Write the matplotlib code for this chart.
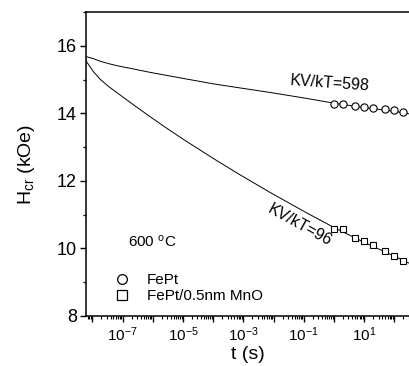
import numpy as np
import matplotlib
matplotlib.use("Agg")
import matplotlib.pyplot as plt
from matplotlib.lines import Line2D
from matplotlib.ticker import LogLocator, FuncFormatter, MultipleLocator, NullFormatter

plt.rcParams['font.family'] = ['Liberation Sans', 'DejaVu Sans']
plt.rcParams['mathtext.fontset'] = 'custom'
plt.rcParams['mathtext.rm'] = 'Liberation Sans'
plt.rcParams['mathtext.it'] = 'Liberation Sans:italic'
plt.rcParams['mathtext.bf'] = 'Liberation Sans:bold'

# ---- data ----
t_curve = [6.2e-9, 1.07e-8, 1.86e-8, 3.5e-8, 6.6e-8, 2.4e-7, 8.5e-7, 3.0e-6, 1.07e-5,
           3.9e-5, 1.07e-4, 6.8e-4, 8.7e-3, 0.11, 1.0, 10.0, 100.0, 330.0]
H_fit_598 = [15.68, 15.62, 15.54, 15.47, 15.41, 15.31, 15.21, 15.12, 15.03,
             14.94, 14.87, 14.76, 14.61, 14.45, 14.30, 14.17, 14.06, 13.98]
H_fit_96 = [15.55, 15.24, 15.00, 14.79, 14.61, 14.24, 13.89, 13.55, 13.22,
            12.90, 12.65, 12.21, 11.63, 11.08, 10.62, 10.18, 9.77, 9.55]

t_meas = [1, 2, 5, 10, 20, 50, 100, 200]
H_FePt = [14.28, 14.27, 14.21, 14.19, 14.16, 14.12, 14.09, 14.04]
H_FePtMnO = [10.57, 10.57, 10.31, 10.21, 10.10, 9.92, 9.79, 9.64]

labels_legend = ['FePt', 'FePt/0.5nm MnO']
label_598 = 'KV/kT=598'
label_96 = 'KV/kT=96'
label_temp = r'600 $^{\mathregular{o}}$C'

# ---- figure ----
fig = plt.figure(figsize=(4.10, 3.66), dpi=100)
ax = fig.add_axes([86/410, 1 - 316/366, 1 - 86/410, 304/366])

ax.plot(t_curve, H_fit_598, color='black', lw=0.7)
ax.plot(t_curve, H_fit_96, color='black', lw=0.7)
ax.plot(t_meas, H_FePt, linestyle='none', marker='o', ms=5.2, mfc='white',
        mec='black', mew=0.8)
ax.plot(t_meas, H_FePtMnO, linestyle='none', marker='s', ms=5.0, mfc='white',
        mec='black', mew=0.8)

ax.set_xscale('log')
ax.set_xlim(10**-8.21, 10**2.517)
ax.set_ylim(8, 17)

ax.spines['right'].set_visible(False)
for s in ['left', 'bottom', 'top']:
    ax.spines[s].set_linewidth(1.1)

ax.yaxis.set_major_locator(MultipleLocator(2))
ax.yaxis.set_minor_locator(MultipleLocator(1))
ax.xaxis.set_major_locator(LogLocator(base=10, subs=(1.0,), numticks=30))
ax.xaxis.set_minor_locator(LogLocator(base=10, subs=np.arange(2, 10), numticks=300))
ax.xaxis.set_minor_formatter(NullFormatter())

def xfmt(v, pos):
    e = int(round(np.log10(v)))
    if e % 2 != 0:
        return r'$\mathregular{10^{%d}}$' % e
    return ''
ax.xaxis.set_major_formatter(FuncFormatter(xfmt))

ax.tick_params(axis='y', which='major', direction='out', length=4.5, width=1.0,
               labelsize=13, pad=2, right=False)
ax.tick_params(axis='y', which='minor', direction='out', length=2.5, width=0.9, right=False)
ax.tick_params(axis='x', which='major', direction='out', length=4, width=1.0,
               labelsize=11, pad=3, top=False)
ax.tick_params(axis='x', which='minor', direction='out', length=2.2, width=0.8, top=False)

ax.set_xlabel('t (s)', fontsize=14, labelpad=1)
ax.set_ylabel(r'H$_{\mathregular{cr}}$ (kOe)', fontsize=14)
ax.yaxis.set_label_coords(-0.15, 0.5)

ax.text(0.74, 14.88, label_598, fontsize=11.5, rotation=-4, ha='center', va='center')
ax.text(0.075, 10.70, label_96, fontsize=11.5, rotation=-29, ha='center', va='center')
ax.text(9.4e-7, 10.2, label_temp, fontsize=11, ha='center', va='center')

handles = [Line2D([], [], linestyle='none', marker='o', ms=7, mfc='white', mec='black', mew=0.9),
           Line2D([], [], linestyle='none', marker='s', ms=7, mfc='white', mec='black', mew=0.9)]
ax.legend(handles, labels_legend, loc='upper left', bbox_to_anchor=(0.065, 0.16),
          frameon=False, fontsize=11, handletextpad=1.0, labelspacing=0.1,
          borderaxespad=0, handlelength=1.2)

fig.savefig('out.png', dpi=100)
